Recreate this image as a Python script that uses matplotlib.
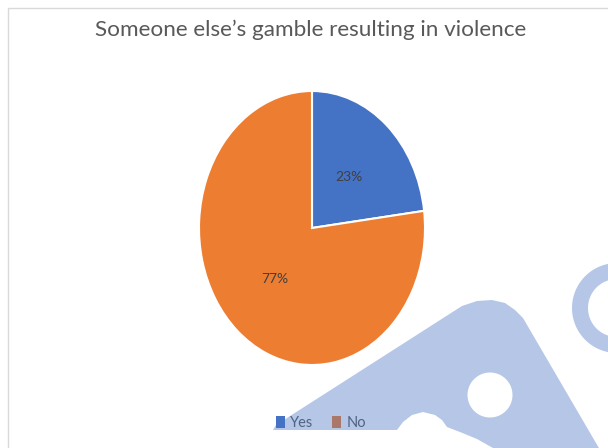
import numpy as np
import matplotlib
matplotlib.use("Agg")
import matplotlib.pyplot as plt
from matplotlib.path import Path
from matplotlib.patches import PathPatch, Rectangle, Patch

# Survey answers
categories = ["Yes", "No"]
shares = [23, 77]
colors = ["#4472C4", "#ED7D31"]
title = "Someone else\u2019s gamble resulting in violence"

W, H = 608, 448
fig = plt.figure(figsize=(W / 100, H / 100), dpi=100)
fig.patch.set_facecolor("white")
FONT = ["Lato", "DejaVu Sans"]

# Pie axes (not equal aspect: the pie is drawn as a tall ellipse)
ax = fig.add_axes([199 / W, 1 - 365 / H, 226 / W, 274 / H])
wedges, texts, autotexts = ax.pie(
    shares, colors=colors, startangle=90, counterclock=False,
    autopct=lambda p: f"{p:.0f}%", pctdistance=0.5,
    wedgeprops=dict(edgecolor="white", linewidth=1.5),
    textprops=dict(color="#404040", fontsize=10, family=FONT),
)
ax.set_xlim(-1, 1)
ax.set_ylim(-1, 1)
ax.set_aspect("auto")
ax.axis("off")

fig.text(311 / W, 1 - 30 / H, title, ha="center", va="center",
         fontsize=16.2, color="#595959", family=FONT)

handles = [Patch(facecolor=c, edgecolor="none") for c in colors]
fig.legend(handles, categories, loc="center", bbox_to_anchor=(321 / W, 1 - 423 / H),
           ncol=2, frameon=False, prop=dict(family=FONT, size=10.5),
           labelcolor="#595959", handlelength=0.6, handleheight=0.85,
           handletextpad=0.35, columnspacing=1.3)

# Overlay in pixel coordinates: chart frame and decorative emblem
ov = fig.add_axes([0, 0, 1, 1], zorder=10)
ov.set_xlim(0, W)
ov.set_ylim(H, 0)
ov.axis("off")
ov.patch.set_alpha(0)

ov.add_patch(Rectangle((8, 8), W + 20, H + 20, fill=False,
                       edgecolor="#D9D9D9", linewidth=1.0))


def oriented(pts, ccw):
    pts = np.asarray(pts, float)
    x, y = pts[:, 0], pts[:, 1]
    area = 0.5 * np.sum(x * np.roll(y, -1) - np.roll(x, -1) * y)
    if (area > 0) != ccw:
        pts = pts[::-1]
    return pts


def circle(cx, cy, r, n=90):
    t = np.linspace(0, 2 * np.pi, n, endpoint=False)
    return np.column_stack([cx + r * np.cos(t), cy + r * np.sin(t)])


def compound(rings):
    verts, codes = [], []
    for pts in rings:
        verts.extend(pts.tolist())
        verts.append(pts[0].tolist())
        codes.extend([Path.MOVETO] + [Path.LINETO] * (len(pts) - 1) + [Path.CLOSEPOLY])
    return Path(verts, codes)


emblem_outer = [
    (273, 430), (276, 425), (462, 306), (477, 301), (492, 300), (505, 303),
    (515, 310), (523, 318), (603, 455), (490, 455), (493, 448), (477, 439),
    (460, 432), (447, 427), (442, 420), (435, 415), (423, 412), (412, 415),
    (403, 422), (397, 430),
]
shape = compound([oriented(emblem_outer, True),
                  oriented(circle(490, 395, 22.5), False)])
ring = compound([oriented(circle(617, 308, 45), True),
                 oriented(circle(617, 308, 29), False)])

wm = dict(facecolor="#4672C4", edgecolor="none", alpha=0.4)
ov.add_patch(PathPatch(shape, **wm))
ov.add_patch(PathPatch(ring, **wm))

fig.savefig("out.png", dpi=100, facecolor="white")
